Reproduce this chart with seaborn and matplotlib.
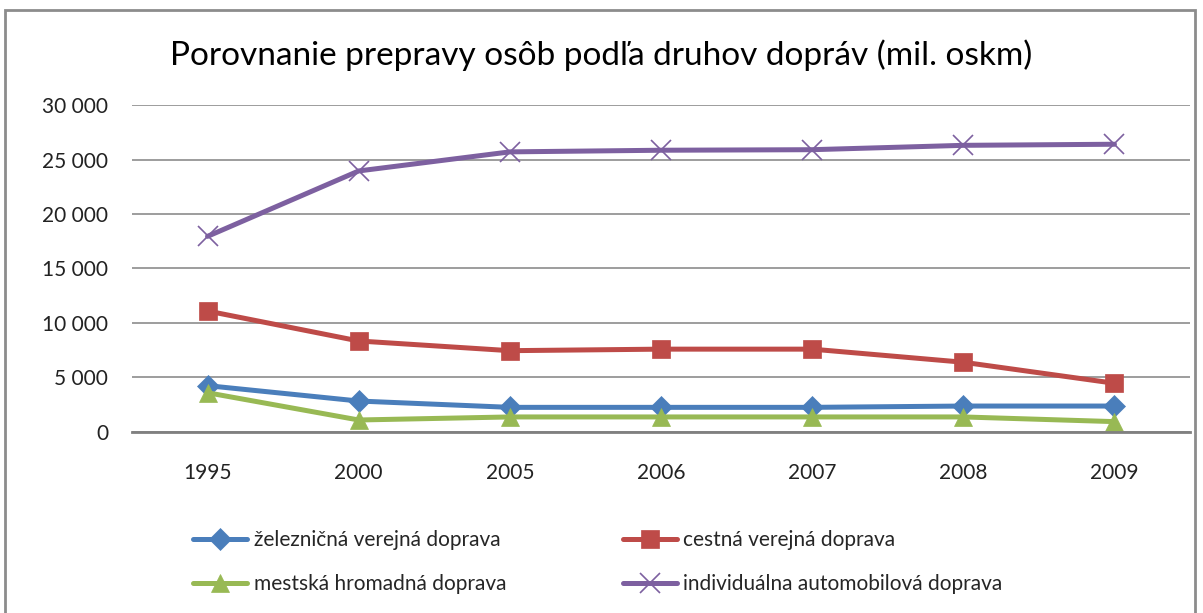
import matplotlib.pyplot as plt
import matplotlib.patches as mpatches
from matplotlib.ticker import FuncFormatter
import seaborn as sns
import pandas as pd

years = ["1995", "2000", "2005", "2006", "2007", "2008", "2009"]
zeleznicna = [4250, 2840, 2260, 2260, 2260, 2380, 2380]
cestna = [11100, 8350, 7460, 7600, 7600, 6400, 4470]
mestska = [3600, 1100, 1380, 1380, 1380, 1380, 950]
individualna = [17950, 23950, 25700, 25850, 25900, 26300, 26400]

series_names = [
    "železničná verejná doprava",
    "cestná verejná doprava",
    "mestská hromadná doprava",
    "individuálna automobilová doprava",
]
series_values = [zeleznicna, cestna, mestska, individualna]

colors = ["#4A7EBB", "#BE4B48", "#98B954", "#7D60A0"]
markers = ["D", "s", "^", "x"]
msizes = [11, 13, 13, 14]

sns.set_style("white")
plt.rcParams['font.family'] = ['Lato', 'DejaVu Sans']

fig = plt.figure(figsize=(12.03, 6.13), dpi=100)
ax = fig.add_axes([0.1097, 0.2953, 0.8795, 0.5334])

for name, vals, c, m, ms in zip(series_names, series_values, colors, markers, msizes):
    df = pd.DataFrame({"rok": years, "hodnota": vals})
    sns.lineplot(data=df, x="rok", y="hodnota", ax=ax, color=c, linewidth=3.6,
                 marker=m, markersize=ms, markeredgecolor=c,
                 markeredgewidth=1.2 if m == "x" else 0.5,
                 sort=False, label=name, legend=False)

ax.set_ylim(0, 30000)
ax.set_xlim(-0.5, len(years) - 0.5)
ax.set_yticks(range(0, 30001, 5000))
ax.yaxis.set_major_formatter(FuncFormatter(lambda v, p: f"{int(v):,}".replace(",", " ")))
ax.grid(axis="y", color="#8C8C8C", linewidth=1.2)
ax.set_axisbelow(True)
ax.set_xlabel("")
ax.set_ylabel("")
for s in ["top", "right", "left"]:
    ax.spines[s].set_visible(False)
ax.spines["bottom"].set_color("#808080")
ax.spines["bottom"].set_linewidth(2)
ax.tick_params(axis="x", length=0, pad=22, labelsize=15, labelcolor="#222222")
ax.tick_params(axis="y", length=0, pad=17, labelsize=15, labelcolor="#222222")

fig.text(0.5, 0.91, "Porovnanie prepravy osôb podľa druhov dopráv (mil. oskm)",
         ha="center", va="center", fontsize=24, color="black")

handles, labels = ax.get_legend_handles_labels()
order = [0, 2, 1, 3]
leg = fig.legend([handles[i] for i in order], [labels[i] for i in order],
                 ncol=2, loc="center left", bbox_to_anchor=(0.145, 0.083),
                 frameon=False, fontsize=15, handlelength=2.6,
                 columnspacing=5.6, labelspacing=1.15, handletextpad=0.3)

fig.patches.append(mpatches.Rectangle((5 / 1203, -0.02), 1190 / 1203, 1.02 - 10 / 613,
                                      transform=fig.transFigure, fill=False,
                                      edgecolor="#8C8C8C", linewidth=2))

fig.savefig("out.png", dpi=100)
